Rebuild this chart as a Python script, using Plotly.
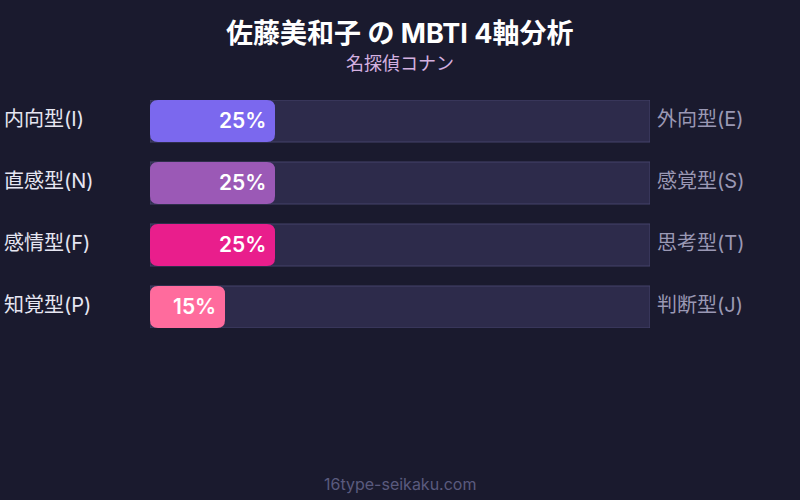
import plotly.graph_objects as go

left_labels = ["内向型(I)", "直感型(N)", "感情型(F)", "知覚型(P)"]
right_labels = ["外向型(E)", "感覚型(S)", "思考型(T)", "判断型(J)"]
values = [25, 25, 25, 15]
colors = ["#7b68ee", "#9b59b6", "#e91e8c", "#ff6b9d"]
title_text = "佐藤美和子 の MBTI 4軸分析"
subtitle_text = "名探偵コナン"
footer_text = "16type-seikaku.com"

FONT = "Inter, Noto Sans CJK JP, sans-serif"
BG = "#1a1a2e"
rows = list(range(len(values)))
bw = 42 / 62
# pixel scales of the plot area: 500 px for 100 units in x, 62 px per row in y
RX = 8 / 5.0
RY = 8 / 62.0

fig = go.Figure()
fig.add_trace(go.Bar(
    x=[100] * len(values), y=rows, orientation="h", width=bw,
    marker=dict(color="#2d2b4b", line=dict(color="#45436a", width=1)),
    hoverinfo="skip", showlegend=False,
))

shapes = []
for r, v, c in zip(rows, values, colors):
    x0, x1 = 0, v
    y0, y1 = r - bw / 2, r + bw / 2
    path = (f"M {x0+RX},{y0} L {x1-RX},{y0} Q {x1},{y0} {x1},{y0+RY} "
            f"L {x1},{y1-RY} Q {x1},{y1} {x1-RX},{y1} L {x0+RX},{y1} "
            f"Q {x0},{y1} {x0},{y1-RY} L {x0},{y0+RY} Q {x0},{y0} {x0+RX},{y0} Z")
    shapes.append(dict(type="path", path=path, xref="x", yref="y",
                       fillcolor=c, line=dict(width=0), layer="above"))

ann = []
for r, v, ll, rl in zip(rows, values, left_labels, right_labels):
    ann.append(dict(x=v, y=r, xref="x", yref="y", text=f"{v}%", showarrow=False,
                    xanchor="right", xshift=-7, yshift=1,
                    font=dict(size=21, color="#ffffff", family=FONT, weight=600)))
    ann.append(dict(x=-0.296, y=r, xref="paper", yref="y", text=ll, showarrow=False,
                    xanchor="left", yshift=2, font=dict(size=20, color="#e6e6f2", family=FONT)))
    ann.append(dict(x=1, y=r, xref="paper", yref="y", text=rl, showarrow=False,
                    xanchor="left", xshift=5, yshift=2,
                    font=dict(size=20, color="#9a98b4", family=FONT)))

def py(p):
    return (328 - p) / 228

ann.append(dict(x=0.5, y=py(33), xref="paper", yref="paper", text=f"<b>{title_text}</b>",
                showarrow=False, xanchor="center", yanchor="middle",
                font=dict(size=27, color="#ffffff", family=FONT)))
ann.append(dict(x=0.5, y=py(64), xref="paper", yref="paper", text=subtitle_text,
                showarrow=False, xanchor="center", yanchor="middle",
                font=dict(size=18, color="#d4b0e0", family=FONT)))
ann.append(dict(x=0.5, y=py(484), xref="paper", yref="paper", text=footer_text,
                showarrow=False, xanchor="center", yanchor="middle",
                font=dict(size=16, color="#5a5a7e", family=FONT)))

fig.update_layout(
    width=800, height=500,
    margin=dict(l=150, r=150, t=100, b=172),
    paper_bgcolor=BG, plot_bgcolor=BG,
    xaxis=dict(range=[0, 100], visible=False, fixedrange=True),
    yaxis=dict(range=[3 + bw / 2, -bw / 2], visible=False, fixedrange=True),
    shapes=shapes,
    annotations=ann,
)
fig.write_html("out.html", config=dict(displayModeBar=False),
               post_script="document.body.style.margin='0';document.body.style.background='%s';" % BG)
